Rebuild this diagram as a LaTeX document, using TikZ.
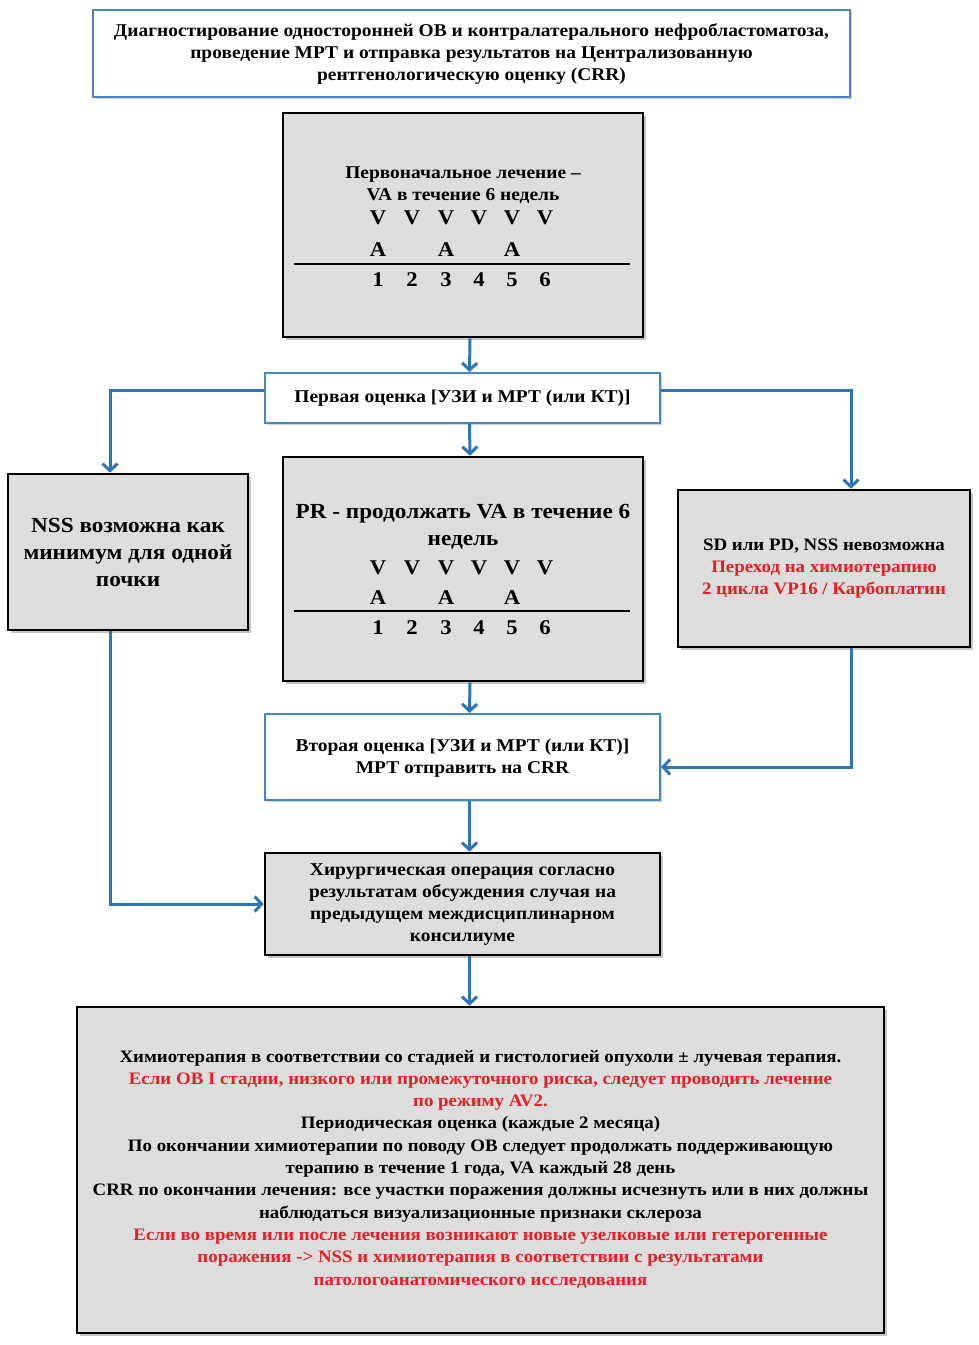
\documentclass[tikz,border=0pt]{standalone}
\usepackage{fontspec}
\setmainfont{Liberation Serif}[FakeStretch=1.08]
\usepackage{tikz}
\usetikzlibrary{arrows.meta,shadows}
\usepackage{xcolor}
\definecolor{flowblue}{RGB}{46,117,182}
\definecolor{boxblue}{RGB}{70,135,195}
\definecolor{boxgray}{RGB}{221,221,221}
\definecolor{txtred}{RGB}{232,30,36}
\tikzset{
  blbox/.style={draw=boxblue,line width=2pt,fill=white,
    drop shadow={shadow xshift=2pt,shadow yshift=-2pt,opacity=0.35}},
  grbox/.style={draw=black,line width=2.6pt,fill=boxgray,
    drop shadow={shadow xshift=3pt,shadow yshift=-3pt,opacity=0.45}},
  txt/.style={align=center,inner sep=0pt,font=\fontsize{18}{22}\selectfont\bfseries},
  smtxt/.style={align=center,inner sep=0pt,font=\fontsize{17.5}{22.3}\selectfont\bfseries},
  bigtxt/.style={align=center,inner sep=0pt,font=\fontsize{21.5}{27}\selectfont\bfseries},
  sched/.style={inner sep=0pt,font=\fontsize{21}{24}\selectfont\bfseries},
  arr/.style={flowblue,line width=3pt,-{Straight Barb[length=7pt,width=15pt]}}
}
\newcommand{\rd}[1]{\textcolor{txtred}{#1}}
\begin{document}
\begin{tikzpicture}[x=1pt,y=-1pt]
\useasboundingbox[fill=white](0,0)rectangle(979,1345);

% top box
\node[blbox,minimum width=757pt,minimum height=87pt] (diag) at (471.5,53.5) {};
\node[txt] (diagt) at (471.5,53.5) {Диагностирование односторонней ОВ и контралатерального нефробластоматоза,\\
  проведение МРТ и отправка результатов на Централизованную\\
  рентгенологическую оценку (CRR)};

% initial treatment
\node[grbox,minimum width=360pt,minimum height=224pt] (init) at (463,225) {};
\node[txt] (initt) at (463,185) {Первоначальное лечение --\\VA в течение 6 недель};
\foreach \i/\x in {1/378,2/412,3/446,4/479,5/512,6/545}{
  \node[sched] (iv\i) at (\x,218) {V};
  \node[sched] (in\i) at (\x,280) {\i};
}
\foreach \i/\x in {1/378,3/446,5/512}
  \node[sched] (ia\i) at (\x,250) {A};
\draw[line width=1.5pt](294,264)--(630,264);% schedule rule

% first assessment
\node[blbox,minimum width=395pt,minimum height=50pt] (first) at (462.5,398) {};
\node[txt] (firstt) at (462.5,398) {Первая оценка [УЗИ и МРТ (или КТ)]};

% left branch
\node[grbox,minimum width=240pt,minimum height=156pt] (nss) at (128,552) {};
\node[bigtxt] (nsst) at (128,552) {NSS возможна как\\минимум для одной\\почки};

% middle branch
\node[grbox,minimum width=360pt,minimum height=224pt] (pr) at (463,569) {};
\node[bigtxt] (prt) at (463,527) {PR - продолжать VA в течение 6\\недель};
\foreach \i/\x in {1/378,2/412,3/446,4/479,5/512,6/545}{
  \node[sched] (pv\i) at (\x,568) {V};
  \node[sched] (pn\i) at (\x,628) {\i};
}
\foreach \i/\x in {1/378,3/446,5/512}
  \node[sched] (pa\i) at (\x,598) {A};
\draw[line width=1.5pt](294,611)--(630,611);% schedule rule

% right branch
\node[grbox,minimum width=292pt,minimum height=157pt] (sd) at (824,568.5) {};
\node[smtxt] (sdt) at (824,568.5) {SD или PD, NSS невозможна\\
  \rd{Переход на химиотерапию}\\\rd{2 цикла VP16 / Карбоплатин}};

% second assessment
\node[blbox,minimum width=395pt,minimum height=86pt] (second) at (462.5,757) {};
\node[txt] (secondt) at (462.5,758) {Вторая оценка [УЗИ и МРТ (или КТ)]\\МРТ отправить на CRR};

% surgery
\node[grbox,minimum width=395pt,minimum height=102pt] (surg) at (462.5,904) {};
\node[txt] (surgt) at (462.5,905) {Хирургическая операция согласно\\результатам обсуждения случая на\\
  предыдущем междисциплинарном\\консилиуме};

% chemotherapy
\node[grbox,minimum width=807pt,minimum height=326pt] (chemo) at (480.5,1170) {};
\node[smtxt] (chemot) at (480.5,1169) {Химиотерапия в соответствии со стадией и гистологией опухоли ± лучевая терапия.\\
  \rd{Если ОВ I стадии, низкого или промежуточного риска, следует проводить лечение}\\
  \rd{по режиму AV2.}\\
  Периодическая оценка (каждые 2 месяца)\\
  По окончании химиотерапии по поводу ОВ следует продолжать поддерживающую\\
  терапию в течение 1 года, VA каждый 28 день\\
  CRR по окончании лечения: все участки поражения должны исчезнуть или в них должны\\
  наблюдаться визуализационные признаки склероза\\
  \rd{Если во время или после лечения возникают новые узелковые или гетерогенные}\\
  \rd{поражения -> NSS и химиотерапия в соответствии с результатами}\\
  \rd{патологоанатомического исследования}};

% arrows
\draw[arr]([xshift=7pt]init.south)--([xshift=7pt]first.north);
\draw[arr]([yshift=8pt]first.west)-|([xshift=-18pt]nss.north);
\draw[arr]([yshift=8pt]first.east)-|([xshift=27pt]sd.north);
\draw[arr]([xshift=7pt]first.south)--([xshift=7pt]pr.north);
\draw[arr]([xshift=7pt]pr.south)--([xshift=7pt]second.north);
\draw[arr]([xshift=27pt]sd.south)|-([yshift=-10pt]second.east);
\draw[arr]([xshift=7pt]second.south)--([xshift=7pt]surg.north);
\draw[arr]([xshift=-18pt]nss.south)|-(surg.west);
\draw[arr]([xshift=7pt]surg.south)--([xshift=7pt]surg.south|-chemo.north);

\end{tikzpicture}
\end{document}
